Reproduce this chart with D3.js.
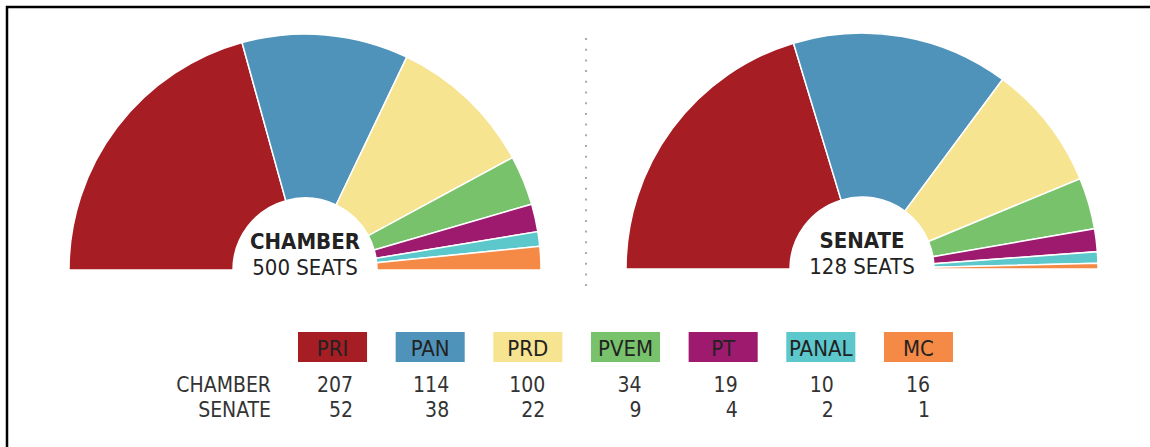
<!DOCTYPE html>
<head>
    <title>Mexico congress seats</title>
    <meta charset="utf-8">
    <script src="https://d3js.org/d3.v7.min.js"></script>
</head>
<body style="margin:0;background:#fff;">
    <svg class="chart" width="1150" height="447"></svg>
</body>
<script>

// data
var parties = ["PRI", "PAN", "PRD", "PVEM", "PT", "PANAL", "MC"];
var chamberSeats = [207, 114, 100, 34, 19, 10, 16];
var senateSeats = [52, 38, 22, 9, 4, 2, 1];
var partyColors = ["#a61d24", "#4f93bb", "#f6e490", "#78c26c", "#9e1a6f", "#5cc8cc", "#f58a47"];
var houses = ["CHAMBER", "SENATE"];

var outerR = 236, innerR = 72;
var font = "'Liberation Sans Narrow', 'DejaVu Sans Condensed', sans-serif";

var svg = d3.select(".chart");

// frame (only top and left edges show)
svg.append("path")
    .attr("d", "M7,460 L7,7 L1160,7")
    .attr("fill", "none")
    .attr("stroke", "#000")
    .attr("stroke-width", 2.5);

var color = d3.scaleOrdinal().domain(parties).range(partyColors);

var pie = d3.pie()
    .sort(null)
    .startAngle(-Math.PI / 2)
    .endAngle(Math.PI / 2)
    .value(function(d) { return d.seats; });

var arc = d3.arc().innerRadius(innerR).outerRadius(outerR);

function drawHalf(cx, cy, seats, title) {
    var rows = parties.map(function(p, i) { return {party: p, seats: seats[i]}; });
    var g = svg.append("g").attr("transform", "translate(" + cx + "," + cy + ")");
    g.selectAll("path")
        .data(pie(rows))
        .enter().append("path")
        .attr("d", arc)
        .attr("fill", function(d) { return color(d.data.party); })
        .attr("stroke", "#fff")
        .attr("stroke-width", 1.5);
    var total = d3.sum(seats);
    g.append("text")
        .attr("y", -21)
        .attr("text-anchor", "middle")
        .style("font", "bold 22px " + font)
        .style("fill", "#222")
        .text(title);
    g.append("text")
        .attr("y", 5)
        .attr("text-anchor", "middle")
        .style("font", "22px " + font)
        .style("fill", "#222")
        .text(total + " SEATS");
}

drawHalf(305, 270, chamberSeats, "CHAMBER");
drawHalf(862, 269, senateSeats, "SENATE");

// dotted divider
svg.append("line")
    .attr("x1", 586).attr("x2", 586)
    .attr("y1", 38).attr("y2", 290)
    .attr("stroke", "#aaa")
    .attr("stroke-width", 2)
    .attr("stroke-dasharray", "2,8.7");

// legend boxes
var xBox = d3.scaleBand().domain(parties).range([298, 953]).paddingInner(0.293).paddingOuter(0);
var legend = svg.append("g");
legend.selectAll("rect")
    .data(parties)
    .enter().append("rect")
    .attr("x", function(d) { return xBox(d); })
    .attr("y", 332)
    .attr("width", xBox.bandwidth())
    .attr("height", 30)
    .attr("fill", function(d) { return color(d); });
legend.selectAll("text")
    .data(parties)
    .enter().append("text")
    .attr("x", function(d) { return xBox(d) + xBox.bandwidth() / 2; })
    .attr("y", 356)
    .attr("text-anchor", "middle")
    .style("font", "22px " + font)
    .style("fill", "#222")
    .text(function(d) { return d; });

// table of numbers
var xNum = d3.scalePoint().domain(parties).range([353, 930]);
var yRow = d3.scalePoint().domain(houses).range([392, 417]);
var table = [chamberSeats, senateSeats];

houses.forEach(function(h, r) {
    svg.append("text")
        .attr("x", 271)
        .attr("y", yRow(h))
        .attr("text-anchor", "end")
        .style("font", "21px " + font)
        .style("fill", "#333")
        .text(h);
    svg.selectAll(null)
        .data(table[r])
        .enter().append("text")
        .attr("x", function(d, i) { return xNum(parties[i]); })
        .attr("y", yRow(h))
        .attr("text-anchor", "end")
        .style("font", "21px " + font)
        .style("fill", "#333")
        .text(function(d) { return d; });
});
</script>
